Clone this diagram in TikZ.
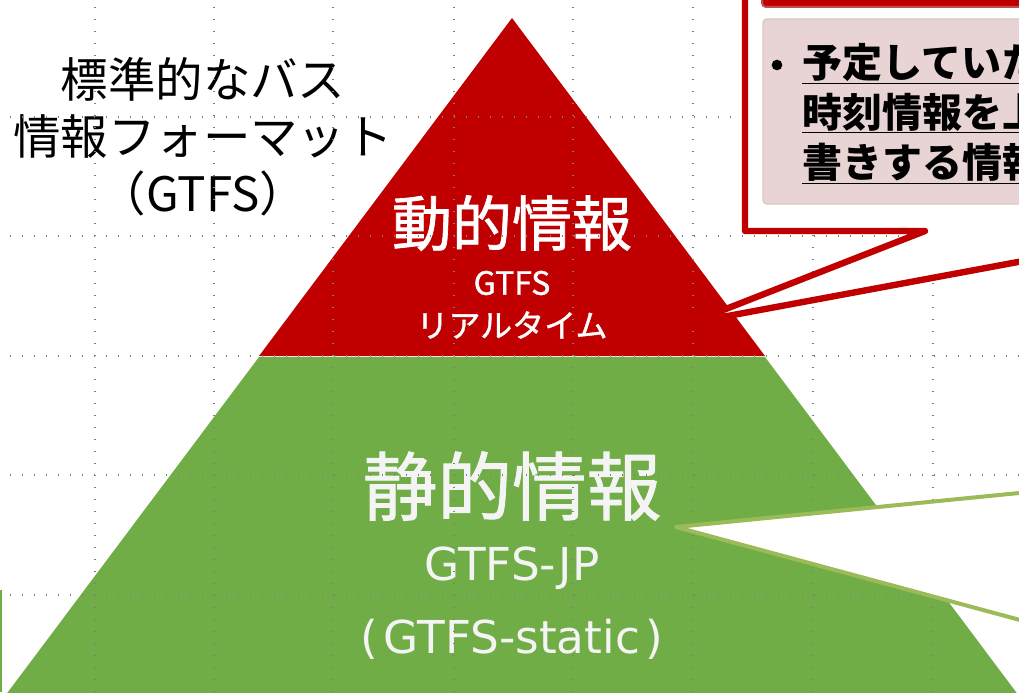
\documentclass[tikz,border=0pt]{standalone}
\usepackage{fontspec}
\setmainfont{Noto Sans CJK JP}
\newfontfamily\jpheavy[FakeBold=1.2]{Noto Sans CJK JP}
\newfontfamily\latinwide{DejaVu Sans}
\definecolor{pyrred}{HTML}{C00000}
\definecolor{pyrgreen}{HTML}{70AD47}
\definecolor{calloutgreen}{HTML}{9BBB59}
\definecolor{pinkbox}{HTML}{E8D4D4}
\definecolor{pinkedge}{HTML}{DEC6C6}
\definecolor{baredge}{HTML}{C0504D}
\definecolor{gridgray}{HTML}{7F7F7F}
\definecolor{offwhite}{HTML}{F4F4F4}
\begin{document}
\begin{tikzpicture}[x=0.75pt,y=-0.75pt,
  gridline/.style={gridgray, line width=1.1pt, dash pattern=on 1.1pt off 7.9pt},
  lbl/.style={inner sep=0pt, align=center},
  whitelbl/.style={lbl, text=white},
  greenlbl/.style={lbl, text=offwhite},
  boxline/.style={anchor=base west, inner sep=0pt, font=\bfseries\fontsize{30}{36}\selectfont}]
\useasboundingbox (0,0) rectangle (1019,692);
\clip (0,0) rectangle (1019,692);
% pyramid
\fill[pyrgreen] (259,357) -- (765,357) -- (1037,720) -- (-13,720) -- cycle;
\fill[pyrred] (512,18) -- (765,356) -- (259,356) -- cycle;
\fill[pyrgreen] (0,590) rectangle (1.5,692);
% texts
\node[lbl, font=\fontsize{35.6}{42.7}\selectfont] (title) at (203,137) {標準的なバス\\情報フォーマット\\（GTFS）};
\node[whitelbl, font=\jpheavy\fontsize{45}{54}\selectfont] (dyn) at (512,223) {動的情報};
\node[whitelbl, font=\jpheavy\fontsize{24}{28}\selectfont] (dyngtfs) at (512,283) {GTFS};
\node[whitelbl, font=\jpheavy\fontsize{24}{28}\selectfont] (dynrt) at (512,325) {リアルタイム};
\node[greenlbl, font=\jpheavy\fontsize{56}{66}\selectfont] (stat) at (512,486) {静的情報};
\node[greenlbl, font=\latinwide\fontsize{34}{40}\selectfont] (statjp) at (512,568) {GTFS-JP};
\node[greenlbl, font=\latinwide\fontsize{34}{40}\selectfont] (statst) at (512,639) {(\hspace{0.12em}GTFS-static\hspace{0.12em})};
% grid
\foreach \y in {117,236,356,475,595} \draw[gridline] (10,\y) -- (1019,\y);
\foreach \x in {95,214,333,454,573,693,813,933} \draw[gridline] (\x,7) -- (\x,692);
% red callout
\filldraw[fill=white, draw=pyrred, line width=4.8pt, line join=round] (745,-30) -- (745,231) -- (925,231) -- (690,323) -- (1120,243) -- (1120,-30) -- cycle;
\filldraw[fill=pyrred, draw=baredge, line width=1.5pt, rounded corners=3pt] (762,-20) rectangle (1100,7);
\filldraw[fill=pinkbox, draw=pinkedge, line width=1pt, rounded corners=3pt] (763,19) rectangle (1100,204);
\node[circle, fill=black, inner sep=0pt, minimum size=8pt] (bullet) at (777,65) {};
\node[boxline] (l1) at (802,77) {\underline{予定していた}};
\node[boxline] (l2) at (802,127) {\underline{時刻情報を上}};
\node[boxline] (l3) at (802,177) {\underline{書きする情報}};
% green callout
\filldraw[fill=white, draw=calloutgreen, line width=3pt, line join=round] (1120,483) -- (676,527) -- (1120,647) -- cycle;
\end{tikzpicture}
\end{document}
